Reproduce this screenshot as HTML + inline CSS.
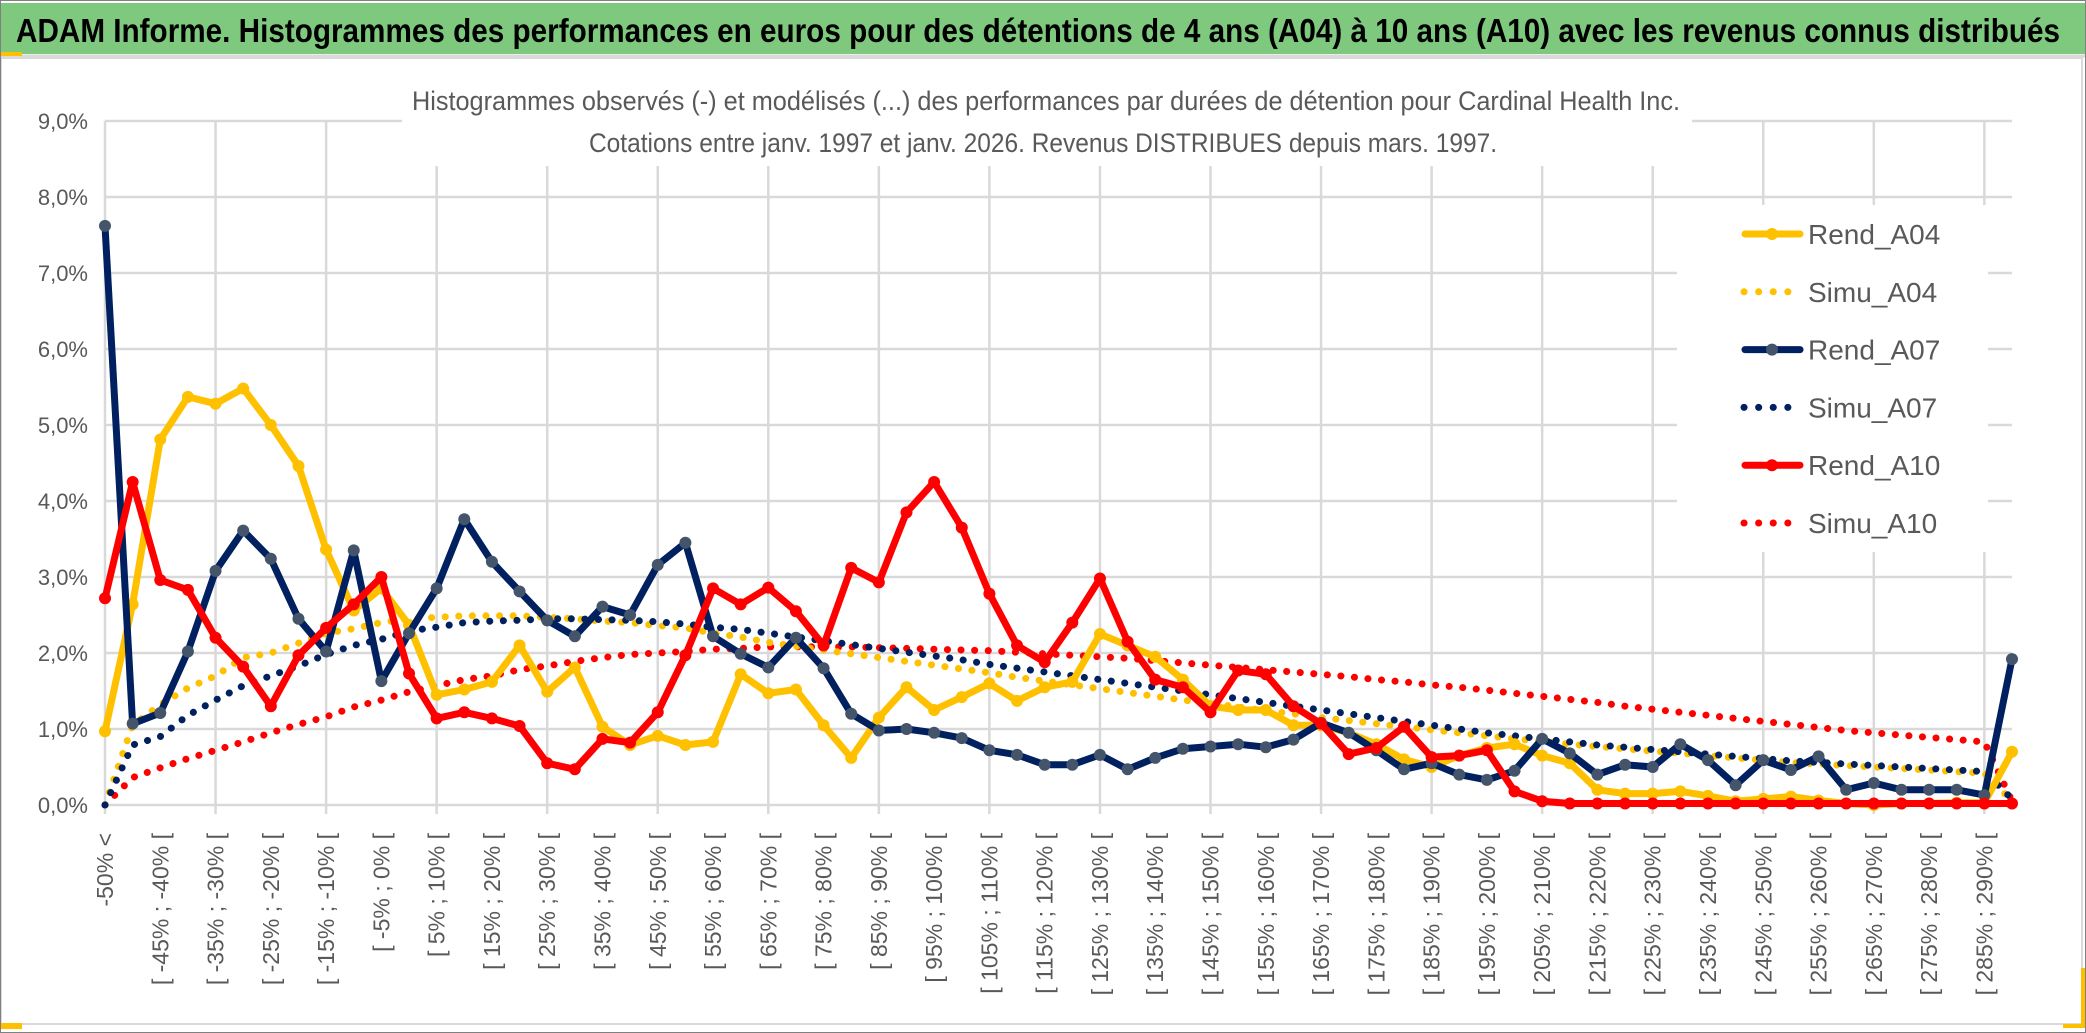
<!DOCTYPE html>
<html><head><meta charset="utf-8"><style>
html,body{margin:0;padding:0;background:#fff;}
svg{display:block;font-family:"Liberation Sans",sans-serif;}
</style></head><body>
<svg id="chart" width="2086" height="1033" viewBox="0 0 2086 1033" xmlns="http://www.w3.org/2000/svg">
<rect x="0" y="0" width="2086" height="1033" fill="#fff"/>
<rect x="1" y="58" width="2081" height="966" fill="#fff" stroke="#d9d9d9" stroke-width="2"/>
<rect x="0" y="3" width="2086" height="51" fill="#7fc97f"/>
<line x1="0" y1="56" x2="2086" y2="56" stroke="#d9d9d9" stroke-width="3"/>
<rect x="0" y="52" width="22" height="4" fill="#ffc000"/>
<rect x="0" y="1023" width="22" height="6" fill="#ffc000"/>
<rect x="2081" y="968" width="4" height="60" fill="#ffc000"/>
<rect x="2063" y="1024" width="22" height="4" fill="#ffc000"/>
<rect x="0.5" y="0.5" width="2085" height="1032" fill="none" stroke="#808080" stroke-width="1"/>
<text x="16" y="42" font-size="33" font-weight="bold" fill="#000" textLength="2044" lengthAdjust="spacingAndGlyphs">ADAM Informe. Histogrammes des performances en euros pour des détentions de 4 ans (A04) à 10 ans (A10) avec les revenus connus distribués</text>
<g id="grid"></g>
<rect x="402" y="62" width="1290" height="104" fill="#fff"/>
<text x="412" y="110" font-size="27" fill="#595959" textLength="1268" lengthAdjust="spacingAndGlyphs">Histogrammes observés (-) et modélisés (...) des performances par durées de détention pour Cardinal Health Inc.</text>
<text x="589" y="152" font-size="27" fill="#595959" textLength="908" lengthAdjust="spacingAndGlyphs">Cotations entre janv. 1997 et janv. 2026. Revenus DISTRIBUES depuis mars. 1997.</text>
<g id="yaxis"></g>
<g id="xaxis"></g>
<g id="series"></g>
<g id="legend"></g>
</svg>
<script>
const rendA04 = [0.97,2.64,4.81,5.37,5.28,5.48,5.00,4.46,3.36,2.56,2.85,2.37,1.45,1.52,1.62,2.10,1.49,1.81,1.03,0.79,0.91,0.79,0.83,1.72,1.47,
1.52,1.05,0.62,1.15,1.55,1.25,1.42,1.60,1.37,1.55,1.62,2.25,2.10,1.95,1.65,1.30,1.25,1.25,1.05,1.05,0.95,0.80,0.60,0.50,0.65,0.75,0.80,0.65,0.55,0.20,0.15,0.15,0.18,0.12,0.05,0.08,0.11,0.06,0.02,0.00,0.02,0.02,0.03,0.03,0.70];
const simuA04 = [0,1.05,1.32,1.54,1.70,1.94,2.00,2.13,2.26,2.32,2.40,2.45,2.47,2.49,2.49,2.49,2.47,2.45,2.42,2.40,2.36,2.33,2.26,2.21,2.14,
2.09,2.04,1.99,1.94,1.89,1.84,1.79,1.74,1.68,1.63,1.58,1.53,1.48,1.43,1.38,1.34,1.29,1.24,1.20,1.15,1.11,1.07,1.03,0.99,0.95,0.91,0.87,0.84,0.80,0.77,0.74,0.71,0.68,0.65,0.62,0.59,0.56,0.54,0.52,0.50,0.48,0.46,0.44,0.42,0.05];
const rendA07 = [7.62,1.07,1.21,2.02,3.08,3.61,3.24,2.45,2.02,3.35,1.63,2.26,2.85,3.76,3.20,2.81,2.43,2.22,2.61,2.50,3.16,3.45,2.22,1.99,1.81,
2.20,1.80,1.20,0.98,1.00,0.95,0.88,0.72,0.66,0.53,0.53,0.66,0.47,0.62,0.74,0.77,0.80,0.76,0.86,1.08,0.95,0.72,0.47,0.55,0.40,0.33,0.45,0.87,0.68,0.40,0.53,0.50,0.80,
0.59,0.26,0.59,0.46,0.64,0.20,0.29,0.20,0.20,0.20,0.13,1.92];
const simuA07 = [0,0.79,0.90,1.18,1.38,1.57,1.70,1.83,1.98,2.10,2.18,2.29,2.34,2.40,2.42,2.43,2.45,2.45,2.44,2.43,2.41,2.38,2.34,2.31,2.26,
2.21,2.16,2.11,2.06,2.01,1.96,1.91,1.85,1.80,1.75,1.70,1.65,1.60,1.55,1.50,1.45,1.40,1.35,1.30,1.25,1.20,1.15,1.10,1.05,1.00,0.95,0.91,0.87,0.83,0.79,0.76,0.73,0.70,0.67,0.64,0.61,0.58,0.56,0.54,0.52,0.50,0.48,0.46,0.44,0.08];
const rendA10 = [2.72,4.25,2.96,2.83,2.20,1.82,1.30,1.97,2.33,2.64,3.00,1.73,1.14,1.22,1.14,1.04,0.55,0.47,0.87,0.82,1.22,1.97,2.85,2.64,2.86,
2.55,2.10,3.12,2.93,3.85,4.25,3.65,2.78,2.10,1.88,2.40,2.98,2.15,1.65,1.55,1.22,1.77,1.72,1.30,1.07,0.67,0.75,1.03,0.63,0.65,0.72,0.18,
0.05,0.02,0.02,0.02,0.02,0.02,0.02,0.02,0.02,0.02,0.02,0.02,0.02,0.02,0.02,0.02,0.02,0.02];
const simuA10 = [0,0.36,0.49,0.61,0.72,0.83,0.95,1.06,1.16,1.29,1.38,1.49,1.57,1.65,1.70,1.78,1.83,1.89,1.94,1.98,2.00,2.02,2.05,2.06,2.08,
2.08,2.08,2.08,2.07,2.06,2.05,2.04,2.03,2.01,1.99,1.97,1.95,1.93,1.90,1.87,1.84,1.81,1.78,1.75,1.72,1.69,1.65,1.62,1.58,1.55,1.51,1.47,1.43,1.39,1.35,1.30,1.26,1.22,1.18,1.14,1.10,1.06,1.02,0.98,0.95,0.92,0.89,0.86,0.83,0.05];
const yTicks = ["0,0%","1,0%","2,0%","3,0%","4,0%","5,0%","6,0%","7,0%","8,0%","9,0%"];
const categories = ["-50% <"];
for (let n = 1; n < 70; n++) categories.push("[ " + (-55 + 5*n) + "% ; " + (-50 + 5*n) + "% [");
const legendNames = ["Rend_A04","Simu_A04","Rend_A07","Simu_A07","Rend_A10","Simu_A10"];

const NS = "http://www.w3.org/2000/svg";
const X0 = 105, X1 = 2012, Y0 = 805, Y1 = 121, YMAX = 9;
const nCat = categories.length;
function xs(i){ return X0 + (X1 - X0) * i / (nCat - 1); }
function ys(v){ return Y0 - (Y0 - Y1) * v / YMAX; }
function mk(tag, attrs, parent){ const e = document.createElementNS(NS, tag); for (const k in attrs) e.setAttribute(k, attrs[k]); parent.appendChild(e); return e; }

const grid = document.getElementById('grid');
for (let k = 0; k < yTicks.length; k++) {
  const l = mk('line', {x1: X0, x2: X1, y1: ys(k), y2: ys(k), stroke: '#d9d9d9', 'stroke-width': 2.5}, grid);
  
  
}
for (let i = 0; i < nCat; i += 4) {
  const l = mk('line', {x1: xs(i), x2: xs(i), y1: Y1, y2: Y0 + 9, stroke: '#d9d9d9', 'stroke-width': 2.5}, grid);
  
  
}
const yaxis = document.getElementById('yaxis');
yTicks.forEach((t, k) => {
  const tx = mk('text', {x: 88, y: ys(k) + 8, 'font-size': 22, fill: '#595959', 'text-anchor': 'end'}, yaxis);
  tx.textContent = t;
  
  
});
const xaxis = document.getElementById('xaxis');
for (let i = 0; i < nCat; i += 2) {
  const x = xs(i) + 8, y = 833;
  const tx = mk('text', {x: x, y: y, 'font-size': 23, fill: '#595959', 'text-anchor': 'end', transform: 'rotate(-90 ' + x + ' ' + y + ')'}, xaxis);
  tx.textContent = categories[i];
  
  
}
const series = document.getElementById('series');
function pts(arr){ return arr.map((v, i) => xs(i).toFixed(1) + ',' + ys(v).toFixed(1)).join(' '); }
function dotted(arr, color, name){
  const p = mk('polyline', {points: pts(arr), fill: 'none', stroke: color, 'stroke-width': 7, 'stroke-linecap': 'round', 'stroke-dasharray': '0.1 13.5'}, series);
  
  
}
function solid(arr, color, mcolor, name){
  const g = mk('g', {}, series);
  
  
  mk('polyline', {points: pts(arr), fill: 'none', stroke: color, 'stroke-width': 7, 'stroke-linejoin': 'round'}, g);
  arr.forEach((v, i) => {
    const c = mk('circle', {cx: xs(i), cy: ys(v), r: 6, fill: mcolor}, g);
    
    
  });
}
dotted(simuA10, '#ff0000', 'simu-a10-line');
dotted(simuA04, '#ffc000', 'simu-a04-line');
dotted(simuA07, '#002060', 'simu-a07-line');
solid(rendA04, '#ffc000', '#ffc000', 'rend-a04-line');
solid(rendA07, '#002060', '#44546a', 'rend-a07-line');
solid(rendA10, '#ff0000', '#ff0000', 'rend-a10-line');

const legend = document.getElementById('legend');
mk('rect', {x: 1677, y: 205, width: 311, height: 347, fill: '#fff'}, legend);
const lColors = ['#ffc000','#ffc000','#002060','#002060','#ff0000','#ff0000'];
const lMark = ['#ffc000',null,'#44546a',null,'#ff0000',null];
legendNames.forEach((nm, k) => {
  const y = 234 + k * 57.8;
  const g = mk('g', {}, legend);
  
  
  if (lMark[k]) {
    mk('line', {x1: 1745, x2: 1800, y1: y, y2: y, stroke: lColors[k], 'stroke-width': 7, 'stroke-linecap': 'round'}, g);
    mk('circle', {cx: 1772, cy: y, r: 6, fill: lMark[k]}, g);
  } else {
    mk('line', {x1: 1744, x2: 1800, y1: y, y2: y, stroke: lColors[k], 'stroke-width': 7, 'stroke-linecap': 'round', 'stroke-dasharray': '0.1 14.5'}, g);
  }
  const t = mk('text', {x: 1808, y: y + 10, 'font-size': 28, fill: '#595959'}, g);
  t.textContent = nm;
});
</script>
</body></html>
